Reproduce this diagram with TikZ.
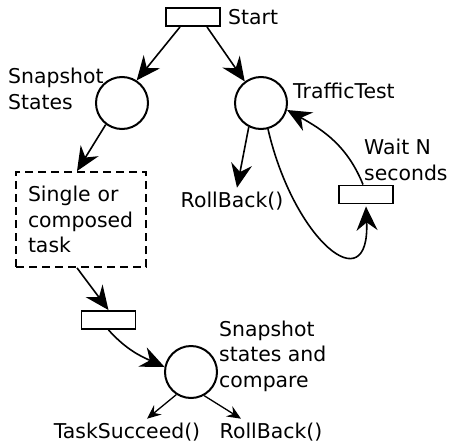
\documentclass[tikz,border=0pt]{standalone}
\usepackage{fontspec}
\setmainfont{DejaVu Sans}
\usetikzlibrary{arrows.meta}

\begin{document}
\begin{tikzpicture}[x=1pt, y=-1pt,
        every node/.style={font=\fontsize{20.4}{25.5}\selectfont},
        place/.style={circle, draw, line width=2pt, minimum size=52pt, inner sep=0pt},
        trans/.style={rectangle, draw, line width=1.9pt, minimum width=54pt, minimum height=18pt, inner sep=0pt},
        txt/.style={inner sep=0pt, align=left},
        petriarc/.style={-{Stealth[length=24pt, width=21pt, inset=8pt]}, line width=1.6pt},
        smallarc/.style={-{Stealth[length=14pt, width=12pt, inset=5pt]}, line width=1.3pt}]
    \useasboundingbox (0,0) rectangle (449,447);

    % places and transitions
    \node[trans] (start) at (193,17) {};
    \node[txt, anchor=west] (startlbl) at (228,17) {Start};

    \node[place] (snap) at (122,103) {};
    \node[txt, anchor=west] (snaplbl) at (8,89) {Snapshot\\States};

    \node[place] (traffic) at (261,103) {};
    \node[txt, anchor=west] (trafficlbl) at (293,91) {TrafficTest};

    \node[draw, dashed, dash pattern=on 8pt off 5pt, line width=1.8pt, minimum width=130pt, minimum height=95pt,
          inner xsep=12pt, text width=106pt, align=left] (task) at (81,219.5) {Single or\\composed\\task};

    \node[txt] (rbmid) at (232,201) {RollBack()};

    \node[trans] (wait) at (366,194.5) {};
    \node[txt, anchor=west] (waitlbl) at (364,160) {Wait N\\seconds};

    \node[trans] (done) at (108.5,320) {};

    \node[place] (compare) at (191,372) {};
    \node[txt, anchor=west] (comparelbl) at (219,356) {Snapshot\\states and\\compare};

    \node[txt] (succeed) at (127,432) {TaskSucceed()};
    \node[txt] (rbbot) at (271,432) {RollBack()};

    % arcs
    \draw[petriarc] ([xshift=-13pt]start.south) -- (snap.57);
    \draw[petriarc] ([xshift=14pt]start.south) -- (traffic.127);
    \draw[petriarc] (snap.233) -- ([xshift=-4pt]task.north);
    \draw[petriarc] (traffic.243) -- ([xshift=5pt, yshift=4pt]rbmid.north);
    \draw[petriarc] (traffic.285) .. controls +(26,112) and +(4,96) .. ([yshift=-2pt]wait.south);
    \draw[petriarc] ([xshift=-3pt]wait.north) to[out=112, in=-29] (traffic.-15);
    \draw[petriarc] ([xshift=-4pt]task.south) -- (done.north);
    \draw[petriarc] (done.south) to[out=-48, in=156] (compare.169);
    \draw[smallarc] (compare.237) -- ([xshift=20pt, yshift=4pt]succeed.north);
    \draw[smallarc] (compare.299) -- ([xshift=-30pt, yshift=4pt]rbbot.north);
\end{tikzpicture}
\end{document}
